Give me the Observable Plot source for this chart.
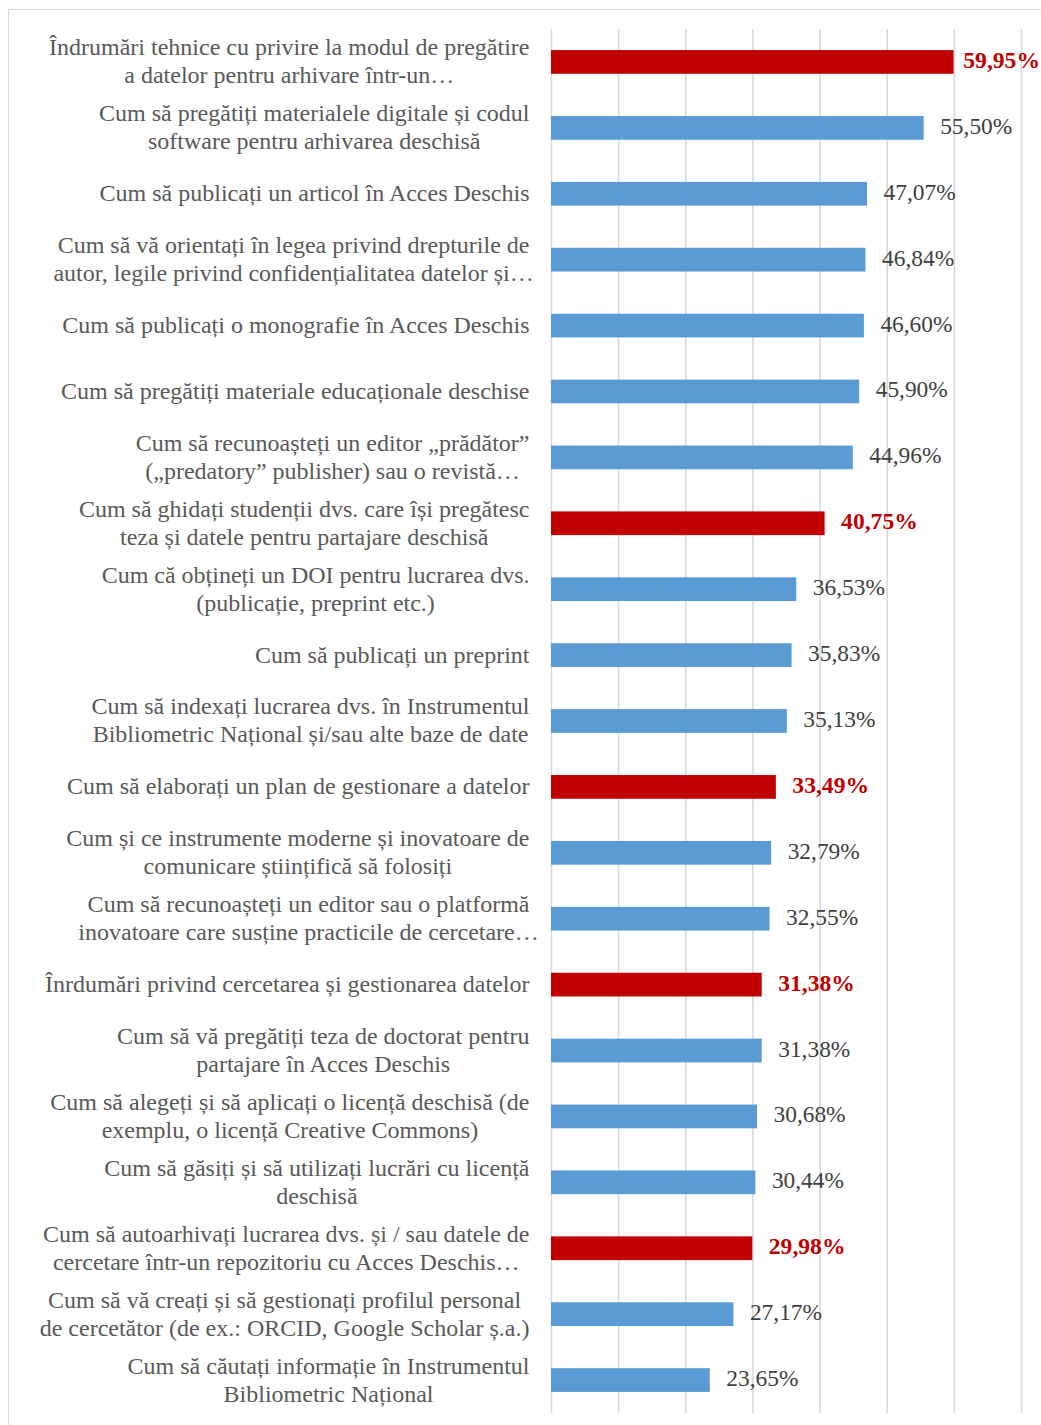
<!DOCTYPE html>
<html>
<head>
<meta charset="utf-8">
<script src="https://cdn.jsdelivr.net/npm/d3@7"></script>
<script src="https://cdn.jsdelivr.net/npm/@observablehq/plot@0.6"></script>
<style>
  html, body { margin: 0; padding: 0; background: #fff; }
  #wrap { position: relative; width: 1041px; height: 1425px; overflow: hidden; }
  #frame { position: absolute; left: 8px; top: 9px; width: 1200px; height: 1600px; border: 1px solid #d9d9d9; box-sizing: border-box; }
  #chart { position: absolute; left: 0; top: 0; }
</style>
</head>
<body>
<div id="wrap"><div id="frame"></div><div id="chart"></div></div>
<script>
const categories = [
  "Îndrumări tehnice cu privire la modul de pregătire\na datelor pentru arhivare într-un…",
  "Cum să pregătiți materialele digitale și codul\nsoftware pentru arhivarea deschisă",
  "Cum să publicați un articol în Acces Deschis",
  "Cum să vă orientați în legea privind drepturile de\nautor, legile privind confidențialitatea datelor și…",
  "Cum să publicați o monografie în Acces Deschis",
  "Cum să pregătiți materiale educaționale deschise",
  "Cum să recunoașteți un editor „prădător”\n(„predatory” publisher) sau o revistă…",
  "Cum să ghidați studenții dvs. care își pregătesc\nteza și datele pentru partajare deschisă",
  "Cum că obțineți un DOI pentru lucrarea dvs.\n(publicație, preprint etc.)",
  "Cum să publicați un preprint",
  "Cum să indexați lucrarea dvs. în Instrumentul\nBibliometric Național și/sau alte baze de date",
  "Cum să elaborați un plan de gestionare a datelor",
  "Cum și ce instrumente moderne și inovatoare de\ncomunicare științifică să folosiți",
  "Cum să recunoașteți un editor sau o platformă\ninovatoare care susține practicile de cercetare…",
  "Înrdumări privind cercetarea și gestionarea datelor",
  "Cum să vă pregătiți teza de doctorat pentru\npartajare în Acces Deschis",
  "Cum să alegeți și să aplicați o licență deschisă (de\nexemplu, o licență Creative Commons)",
  "Cum să găsiți și să utilizați lucrări cu licență\ndeschisă",
  "Cum să autoarhivați lucrarea dvs. și / sau datele de\ncercetare într-un repozitoriu cu Acces Deschis…",
  "Cum să vă creați și să gestionați profilul personal\nde cercetător (de ex.: ORCID, Google Scholar ș.a.)",
  "Cum să căutați informație în Instrumentul\nBibliometric Național"
];
const values = [59.95, 55.50, 47.07, 46.84, 46.60, 45.90, 44.96, 40.75, 36.53, 35.83, 35.13,
  33.49, 32.79, 32.55, 31.38, 31.38, 30.68, 30.44, 29.98, 27.17, 23.65];
const highlighted = [true, false, false, false, false, false, false, true, false, false, false,
  true, false, false, true, false, false, false, true, false, false];
const xTicks = [0, 10, 20, 30, 40, 50, 60, 70];

const data = categories.map((c, i) => ({cat: c, value: values[i], hi: highlighted[i]}));
const fmt = v => v.toFixed(2).replace(".", ",") + "%";
const FONT = "Liberation Serif, Times New Roman, serif";
const W = 1041;

const plot = Plot.plot({
  width: W,
  height: 1425,
  marginLeft: 551,
  marginRight: 20,
  marginTop: 29,
  marginBottom: 12,
  style: {fontFamily: FONT, background: "transparent"},
  x: {domain: [0, 70], axis: null},
  y: {domain: categories, axis: null, paddingInner: 0.64, paddingOuter: 0.32, round: false},
  marks: [
    Plot.ruleX(xTicks, {stroke: "#d9d9d9", strokeWidth: 1.6}),
    Plot.barX(data, {x: "value", y: "cat", fill: d => d.hi ? "#c00000" : "#5b9bd5"}),
    Plot.text(data.filter(d => !d.hi), {x: "value", y: "cat", text: d => fmt(d.value), textAnchor: "start", dx: 16, dy: -2, fill: "#404040", fontSize: 23.4, className: "vallabel"}),
    Plot.text(data.filter(d => d.hi), {x: "value", y: "cat", text: d => fmt(d.value), textAnchor: "start", dx: 16, dy: -2, fill: "#c00000", fontSize: 23.6, fontWeight: "bold", className: "vallabel"}),
    Plot.text(data, {x: 0, y: "cat", text: "cat", textAnchor: "middle", dy: -2, fill: "#595959", fontSize: 24, lineHeight: 28/24, className: "catlabel"})
  ]
});
document.getElementById("chart").appendChild(plot);

// centre the lines of each label as a block whose right edge sits left of the axis
d3.select(plot).selectAll("g.catlabel text").each(function() {
  const tspans = this.querySelectorAll("tspan");
  let w = 0, wAll = 0;
  const lines = tspans.length ? Array.from(tspans) : [this];
  lines.forEach(t => {
    const lw = t.getComputedTextLength();
    wAll = Math.max(wAll, lw);
    if (!t.textContent.endsWith("…")) w = Math.max(w, lw);
  });
  if (w === 0) w = wAll;
  const tr = this.getAttribute("transform") || "";
  this.setAttribute("transform", tr + ` translate(${-22 - w / 2},0)`);
});

// keep value labels inside the picture, as the spreadsheet does
d3.select(plot).selectAll("g.vallabel text").each(function() {
  const b = this.getBoundingClientRect();
  const over = b.right - (W - 1);
  if (over > 0) {
    const tr = this.getAttribute("transform") || "";
    this.setAttribute("transform", tr + ` translate(${-over},0)`);
  }
});
</script>
</body>
</html>
